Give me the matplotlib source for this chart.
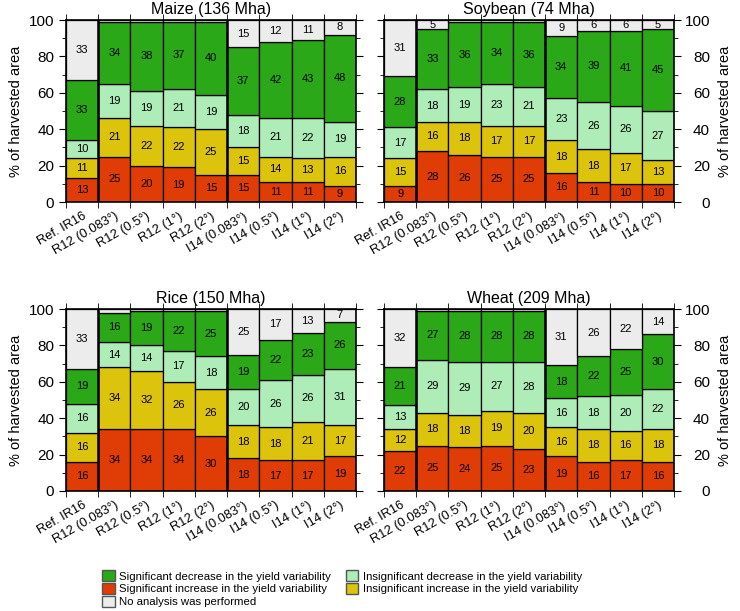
import matplotlib
matplotlib.use("Agg")
import matplotlib.pyplot as plt
from matplotlib.ticker import MultipleLocator, FixedLocator
from matplotlib.patches import Patch
import numpy as np

plt.rcParams['font.family'] = ['Liberation Sans', 'DejaVu Sans']

cases = ["Ref. IR16", "R12 (0.083°)", "R12 (0.5°)", "R12 (1°)", "R12 (2°)",
         "I14 (0.083°)", "I14 (0.5°)", "I14 (1°)", "I14 (2°)"]

crops = ["Maize (136 Mha)", "Soybean (74 Mha)", "Rice (150 Mha)", "Wheat (209 Mha)"]

# order within each crop: sig increase, insig increase, insig decrease, sig decrease, no analysis
maize_sig_inc = [13, 25, 20, 19, 15, 15, 11, 11, 9]
maize_ins_inc = [11, 21, 22, 22, 25, 15, 14, 13, 16]
maize_ins_dec = [10, 19, 19, 21, 19, 18, 21, 22, 19]
maize_sig_dec = [33, 34, 38, 37, 40, 37, 42, 43, 48]
maize_none = [33, 1, 1, 1, 1, 15, 12, 11, 8]

soy_sig_inc = [9, 28, 26, 25, 25, 16, 11, 10, 10]
soy_ins_inc = [15, 16, 18, 17, 17, 18, 18, 17, 13]
soy_ins_dec = [17, 18, 19, 23, 21, 23, 26, 26, 27]
soy_sig_dec = [28, 33, 36, 34, 36, 34, 39, 41, 45]
soy_none = [31, 5, 1, 1, 1, 9, 6, 6, 5]

rice_sig_inc = [16, 34, 34, 34, 30, 18, 17, 17, 19]
rice_ins_inc = [16, 34, 32, 26, 26, 18, 18, 21, 17]
rice_ins_dec = [16, 14, 14, 17, 18, 20, 26, 26, 31]
rice_sig_dec = [19, 16, 19, 22, 25, 19, 22, 23, 26]
rice_none = [33, 2, 1, 1, 1, 25, 17, 13, 7]

wheat_sig_inc = [22, 25, 24, 25, 23, 19, 16, 17, 16]
wheat_ins_inc = [12, 18, 18, 19, 20, 16, 18, 16, 18]
wheat_ins_dec = [13, 29, 29, 27, 28, 16, 18, 20, 22]
wheat_sig_dec = [21, 27, 28, 28, 28, 18, 22, 25, 30]
wheat_none = [32, 1, 1, 1, 1, 31, 26, 22, 14]

data = [
    [maize_sig_inc, maize_ins_inc, maize_ins_dec, maize_sig_dec, maize_none],
    [soy_sig_inc, soy_ins_inc, soy_ins_dec, soy_sig_dec, soy_none],
    [rice_sig_inc, rice_ins_inc, rice_ins_dec, rice_sig_dec, rice_none],
    [wheat_sig_inc, wheat_ins_inc, wheat_ins_dec, wheat_sig_dec, wheat_none],
]

colors = ["#e03c06", "#dcc30c", "#aeecb8", "#2aa818", "#ececec"]
names = ["Significant increase in the yield variability",
         "Insignificant increase in the yield variability",
         "Insignificant decrease in the yield variability",
         "Significant decrease in the yield variability",
         "No analysis was performed"]

fig = plt.figure(figsize=(7.4, 6.11), dpi=100)

W, H = 740, 611
lefts = [66, 384, 66, 384]
tops = [20, 20, 309, 309]

for k in range(4):
    ax = fig.add_axes([lefts[k] / W, 1 - (tops[k] + 182) / H, 290 / W, 182 / H])
    x = np.arange(len(cases))
    bottom = np.zeros(len(cases))
    for s in range(5):
        vals = np.array(data[k][s], dtype=float)
        ax.bar(x, vals, width=1.0, bottom=bottom, color=colors[s],
               edgecolor="black", linewidth=0.9)
        for i in range(len(cases)):
            if vals[i] >= 5:
                ax.text(x[i], bottom[i] + vals[i] / 2, "%d" % vals[i],
                        ha="center", va="center", fontsize=8)
        bottom += vals
    for b in [0.5, 4.5]:
        ax.axvline(b, color="black", lw=1.8)
    ax.set_xlim(-0.5, 8.5)
    ax.set_ylim(0, 100)
    ax.set_title(crops[k], fontsize=11.5, pad=4)
    ax.set_xticks(x)
    ax.set_xticklabels(cases, rotation=30, ha="right", rotation_mode="anchor", fontsize=9.3)
    ax.tick_params(axis="x", which="major", length=0, pad=6)
    ax.xaxis.set_minor_locator(FixedLocator(np.arange(-0.5, 9, 1.0)))
    ax.tick_params(axis="x", which="minor", length=4, top=True, bottom=True, direction="out")
    ax.yaxis.set_major_locator(MultipleLocator(20))
    ax.yaxis.set_minor_locator(MultipleLocator(10))
    ax.tick_params(axis="y", which="both", left=True, right=True, direction="out", labelsize=11)
    ax.tick_params(axis="y", which="major", length=5)
    ax.tick_params(axis="y", which="minor", length=3)
    if k % 2 == 0:
        ax.set_ylabel("% of harvested area", fontsize=10.5)
    else:
        ax.yaxis.set_label_position("right")
        ax.tick_params(axis="y", labelleft=False, labelright=True, pad=21)
        for lab in ax.get_yticklabels():
            lab.set_horizontalalignment("right")
        ax.set_ylabel("% of harvested area", fontsize=10.5, labelpad=6)
    for sp in ax.spines.values():
        sp.set_linewidth(1.2)

order = [3, 0, 4, 2, 1]
handles = [Patch(facecolor=colors[i], edgecolor="#555555", label=names[i]) for i in order]
fig.legend(handles=handles, loc="upper left", bbox_to_anchor=(102 / W, 1 - 570 / H),
           ncol=2, frameon=False, fontsize=8.2, handlelength=1.1, handleheight=1.15,
           handletextpad=0.4, labelspacing=0.12, columnspacing=1.3, borderaxespad=0, borderpad=0)

fig.savefig("out.png", dpi=100)
